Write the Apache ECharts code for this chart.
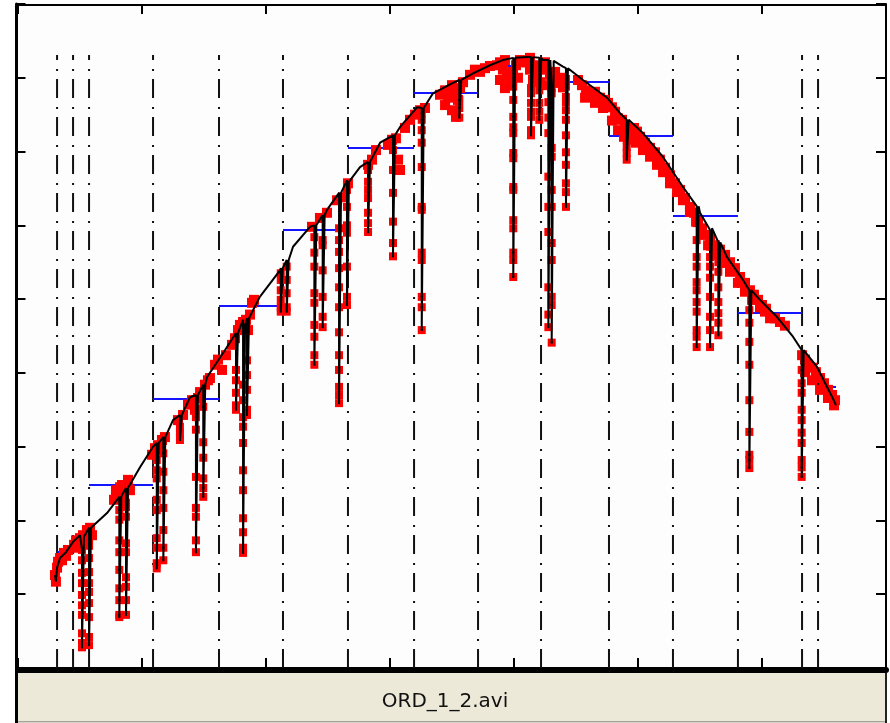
<!DOCTYPE html>
<html><head><meta charset="utf-8">
<script src="https://cdn.jsdelivr.net/npm/echarts@6/dist/echarts.min.js"></script>
<style>html,body{margin:0;padding:0;background:#fff;}#c{width:890px;height:723px;}</style>
</head><body><div id="c"></div>
<script>
// ---- data (x: 0..700, y: 0..900 arbitrary units) ----
const trendX = [29.8,30.6,31.5,33.9,38.7,44.4,50,58,71.8,84.7,98.4,108.9,125,138.7,152.4,167,181.5,195,211.3,221.8,235.5,249.2,265.3,275.8,292,308,321.8,334.7,350.8,367,380.6,391,410.5,423.4,439.5,455.6,475,485.5,504,520,536.3,550,558,571.8,584.7,598.4,612,625,633,644.4,657,659.7];
const trendY = [126,117,136,149,157,171,180,191,210,237,272,300,336,367,394,431,472,503,539,571,598,621,661,679,712,733,760,779,793,806,817,824,828,824,815,797,773,752,725,693,652,617,594,557,526,499,476,449,431,408,366,356];

const dipX   = [51.6,57.3,81.7,87.1,111.9,117.2,130.6,143.5,149.4,175.8,181.5,184.7,211.9,216.7,239,245.7,258.9,265.3,282.3,302.4,325.6,355.9,399.4,413.7,420.4,427.7,430.4,441.9,490.9,547.3,558.1,564.8,589.8,632];
const dipTop = [178,190,232,244,305,313,343,370,384,454,465,474,542,553,600,614,644,659,686,722,759,797,827,828,827,824,823,813,743,626,596,577,512,431];
const dipMarks = [
  [160,146,129,115,99,85,72,47,34,28],
  [167,149,130,115,103,88,69,42,31],
  [214,201,173,157,133,108,92,72,69],
  [224,218,205,169,157,123,110,92,72],
  [282,268,257,228,214,176,163,142,135],
  [291,266,241,217,187,163,146],
  [327,318,309],
  [340,323,259,217,205,173,157],
  [354,306,285,257,244,232],
  [404,390,373,356,350],
  [384,363,340,327,305,268,241,203,184,163,156],
  [417,397,377,350,343],
  [535,526,512,499,489,483],
  [544,526,508,489,483],
  [584,563,544,508,495,465,449,424,411],
  [580,573,539,503,476,462],
  [596,580,564,542,516,489,455,424,404,381,370,359],
  [648,625,600,590,544,503,492],
  [675,659,648,637,617,603,591],
  [702,675,644,605,576,558],
  [752,743,729,712,679,625,621,563,553,503,489,458],
  [770,759,746],
  [788,770,747,733,725,698,691,652,648,607,596,563,553,530],
  [786,779,766,754,747,729,722],
  [783,766,754,743],
  [767,746,725,666,625,591,516,479,462],
  [786,779,705,693,648,625,576,553,503,492,441],
  [788,774,767,756,743,722,699,682,657,645,625],
  [716,706,698,689],
  [603,580,557,544,523,512,496,483,458,449,435],
  [584,571,557,544,529,503,476,458,435],
  [567,550,537,516,496,481,468,451],
  [485,468,442,411,363,320,289,282,271],
  [404,386,373,350,336,319,305,282,272,259]
];

// red markers sitting on the curve (upper row)
const bandX = [29.8,30.6,31.5,32.3,33.9,35.5,37.1,38.7,40.3,
45.2,46.8,48.4,50,52.4,54,55.6,58.1,59.7,56.5,
77.4,79,80.6,82.3,83.9,85.5,87.1,88.7,90.3,
108.1,110.5,112.9,114.5,116.1,118.5,
129,133.1,137.1,140.3,142.7,145.2,146.8,
150.8,153.2,154.8,
158.9,161.3,164.5,167.7,
172.6,175,177.4,179,181.5,183.9,185.5,187.1,188.7,190.3,
237.1,243.5,249.2,257.3,262.1,266.1,
282.3,285.5,288.7,
298.4,301.6,304.8,306.5,308.1,
312.1,316.1,320.2,324.2,328.2,
340.3,344.4,346.8,350,352.4,354.8,356.5,358.9,344.4,350,353.2,
364.5,368.5,372.6,376.6,380.6,
386.3,388.7,391.1,394.4,396.8,399.2,401.6,404.8,407.3,392.7,
410.5,412.9,415.3,418.5,421,425,429,433.1,437.1,441.1,412.9,425,
451.6,454.8,458.1,461.3,465.3,469.4,472.6,
475.8,479,481.5,483.9,487.1,489.5,491.9,494.4,496.8,499.2,501.6,505.6,509.7,513.7,517.7,521.8,525.8,529.8,533.9,537.9,541.9,545.2,548.4,551.6,
554,558.1,562.1,566.1,570.2,574.2,578.2,582.3,586.3,590.3,593.5,596.8,
600,603.2,610.5,614.5,618.5,
632.3,634.7,637.1,640.3,643.5,646.8,650,653.2,656.5,658.9];
const bandY = [126,117,136,144,149,146,156,152,160,
167,173,163,176,180,173,187,190,180,167,
228,241,230,245,248,234,244,255,241,
289,298,302,296,309,313,
336,343,357,363,350,366,374,
384,390,393,
411,418,404,424,
438,447,458,465,469,472,458,479,495,499,
598,610,617,634,638,657,
682,689,702,
709,716,718,689,675,
732,743,750,756,759,
777,783,773,790,781,770,786,794,763,756,747,
804,811,808,813,816,
817,821,811,804,797,808,817,824,821,824,
821,811,816,808,817,811,804,808,800,797,827,821,
797,790,783,777,781,773,770,
766,760,754,745,743,736,732,729,732,727,720,712,705,699,689,678,668,657,648,637,625,617,605,596,
587,580,573,567,560,550,542,530,522,512,506,499,
492,487,474,469,464,
424,418,411,407,401,393,386,377,370,363];
// red markers at the lower edge of the thick band
const bandLowX = [388.7,392.7,398.4,403.2,415.3,421,427.4,433.9,439.5,
457.3,465.3,471.8,
479,483.9,488.7,493.5,498.4,504,509.7,515.3,520.2,525.8,531.5,536.3,541.9,546.8,551.6,
556.5,562.1,567.7,574.2,580.6,586.3,592,598.4,602.4,606.5,
634.7,640.3,646.8,653.2,658.1];
const bandLowY = [797,786,790,800,797,794,790,793,787,
773,766,759,
742,729,720,716,712,702,693,682,672,657,645,634,618,605,591,
573,560,549,537,522,510,499,489,483,474,
401,390,377,366,356];

const stepEdges  = [31.5,44.4,57.3,108.9,162.1,213.7,266.1,319.4,371,421.8,476.6,528.2,580.6,632.3,645.2,659.7];
const stepLevels = [157,171,248,365,491,594,705,780,816,794,721,613,481,413,381];
const gateX = [31.5,44.4,57.3,108.9,162.1,213.7,266.1,319.4,371,421.8,476.6,528.2,580.6,632.3,645.2];
const gateTop = 831;
const fileName = 'ORD_1_2.avi';

// ---- build series ----
const events = [];
trendX.forEach((x,i)=>events.push({x, pts:[[x,trendY[i]]]}));
dipX.forEach((x,i)=>{
  const pts=[[x,dipTop[i]]];
  dipMarks[i].forEach(v=>pts.push([x,v]));
  pts.push([x+1.6,dipTop[i]]);
  events.push({x,pts});
});
events.sort((a,b)=>a.x-b.x);
const lineData = events.flatMap(e=>e.pts);

const dipPts = [];
dipX.forEach((x,i)=>dipMarks[i].forEach(v=>dipPts.push([x,v])));
const bandPts = bandX.map((x,i)=>[x,bandY[i]]).concat(bandLowX.map((x,i)=>[x,bandLowY[i]]));

const series = [];
gateX.forEach(x=>series.push({
  type:'line', data:[[x,0],[x,gateTop]], symbol:'none', silent:true, z:1,
  lineStyle:{color:'#111', width:2, type:[19,8,2,9], cap:'butt'}
}));
series.push({
  type:'lines', coordinateSystem:'cartesian2d', z:2, silent:true,
  lineStyle:{color:'#1414ff', width:2, opacity:1},
  data: stepLevels.map((v,i)=>({coords:[[stepEdges[i],v],[stepEdges[i+1],v]]}))
});
series.push({type:'scatter', data:bandPts, symbol:'rect', symbolSize:10,
  itemStyle:{color:'#ff0000', opacity:1}, z:3, silent:true});
series.push({type:'scatter', data:dipPts, symbol:'rect', symbolSize:8,
  itemStyle:{color:'#ff0000', opacity:1}, z:3, silent:true});
series.push({type:'line', data:lineData, symbol:'none', z:4, silent:true,
  lineStyle:{color:'#000', width:2}});
series.push({type:'scatter', data:dipPts, symbol:'rect', symbolSize:2,
  itemStyle:{color:'#000', opacity:1}, z:5, silent:true});

const chart = echarts.init(document.getElementById('c'));
chart.setOption({
  animation:false,
  backgroundColor:'#ffffff',
  grid:{left:18, right:4, top:4, bottom:55, show:true, backgroundColor:'#fdfdfd', borderWidth:0},
  xAxis:[
    {type:'value', min:0, max:700, interval:100, position:'bottom', offset:2,
     axisLine:{onZero:false, lineStyle:{color:'#000', width:6}}, axisTick:{inside:true, length:12, lineStyle:{color:'#000', width:2}},
     axisLabel:{show:false}, splitLine:{show:false}},
    {type:'value', min:0, max:700, interval:100, position:'top', offset:-1,
     axisLine:{onZero:false, lineStyle:{color:'#000', width:2}}, axisTick:{inside:true, length:9, lineStyle:{color:'#000', width:2}},
     axisLabel:{show:false}, splitLine:{show:false}}
  ],
  yAxis:[
    {type:'value', min:0, max:900, interval:100, position:'left', offset:1.5,
     axisLine:{show:true, onZero:false, lineStyle:{color:'#000', width:3}}, axisTick:{show:true, inside:true, length:9, lineStyle:{color:'#000', width:2}},
     axisLabel:{show:false}, splitLine:{show:false}},
    {type:'value', min:0, max:900, interval:100, position:'right',
     axisLine:{show:true, onZero:false, lineStyle:{color:'#000', width:2}}, axisTick:{show:true, inside:true, length:10, lineStyle:{color:'#000', width:2}},
     axisLabel:{show:false}, splitLine:{show:false}}
  ],
  title:{text:fileName, left:'center', top:687,
    textStyle:{fontFamily:'DejaVu Sans', fontSize:20, fontWeight:'normal', color:'#111'}},
  graphic:[
    {type:'rect', shape:{x:17, y:673, width:868, height:49}, style:{fill:'#ECE9D8'}, silent:true},
    {type:'rect', shape:{x:17, y:721, width:868, height:1.5}, style:{fill:'#a5a497'}, silent:true},
    {type:'rect', shape:{x:15, y:668, width:3, height:55}, style:{fill:'#000'}, silent:true},
    {type:'rect', shape:{x:885, y:668, width:2, height:55}, style:{fill:'#222'}, silent:true}
  ],
  series
});
</script></body></html>
